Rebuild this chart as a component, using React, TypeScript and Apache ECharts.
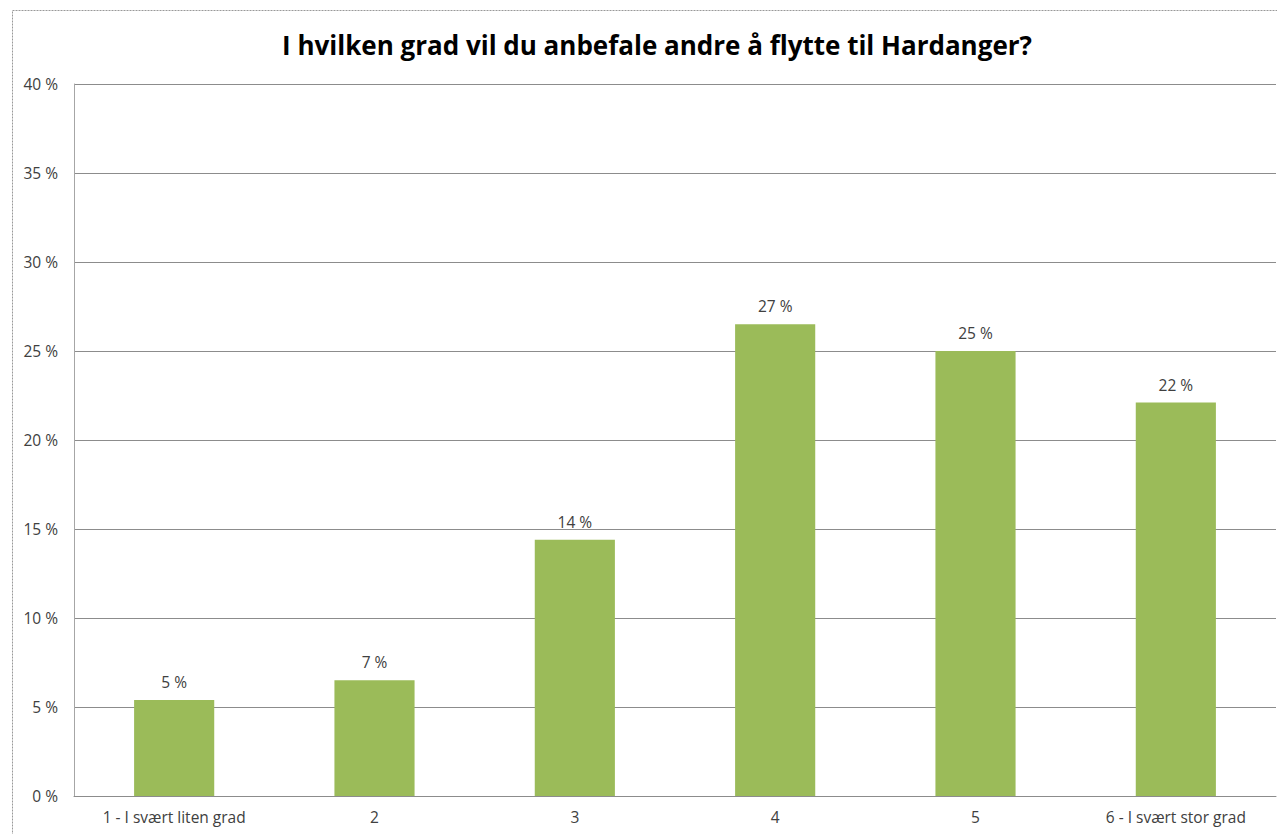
import React, { useEffect, useRef } from "react";
import * as echarts from "echarts";

const categories = ["1 - I svært liten grad", "2", "3", "4", "5", "6 - I svært stor grad"];
const values = [5.4, 6.5, 14.4, 26.5, 25.0, 22.1];
const yTicks = [0, 5, 10, 15, 20, 25, 30, 35, 40];
const title = "I hvilken grad vil du anbefale andre å flytte til Hardanger?";

export default function App() {
  const ref = useRef<HTMLDivElement>(null);
  useEffect(() => {
    document.body.style.margin = "0";
    const chart = echarts.init(ref.current!, null, { renderer: "svg" });
    const font = "'Open Sans', 'Noto Sans', sans-serif";
    chart.setOption({
      animation: false,
      backgroundColor: "#ffffff",
      title: {
        text: title,
        left: 652,
        top: 27,
        textAlign: "center",
        textStyle: { fontFamily: font, fontSize: 26, fontWeight: "bold", color: "#000" },
      },
      graphic: [
        {
          type: "rect",
          shape: { x: 12.5, y: 10.5, width: 1400, height: 1000 },
          style: { fill: "none", stroke: "#999", lineWidth: 1, lineDash: [2, 1] },
          silent: true,
        },
      ],
      grid: { left: 74, right: 1, top: 84, bottom: 38, containLabel: false },
      xAxis: {
        type: "category",
        data: categories,
        axisLine: { show: true, lineStyle: { color: "#8c8c8c", width: 1 } },
        axisTick: { show: false },
        axisLabel: { fontFamily: font, fontSize: 15.5, color: "#404040", margin: 13 },
      },
      yAxis: {
        type: "value",
        min: 0,
        max: 40,
        interval: 5,
        axisLine: { show: true, lineStyle: { color: "#a6a6a6", width: 1 } },
        axisTick: { show: false },
        splitLine: { show: true, lineStyle: { color: "#8c8c8c", width: 1 } },
        axisLabel: {
          fontFamily: font,
          fontSize: 15.5,
          color: "#404040",
          margin: 16,
          formatter: (v: number) => (yTicks.includes(v) ? `${v} %` : ""),
        },
      },
      series: [
        {
          type: "bar",
          data: values,
          barWidth: "40%",
          itemStyle: { color: "#9BBB59" },
          label: {
            show: true,
            position: "top",
            distance: 10,
            fontFamily: font,
            fontSize: 15.5,
            color: "#404040",
            formatter: (p: any) => `${Math.round(p.value)} %`,
          },
        },
      ],
    });
    return () => chart.dispose();
  }, []);
  return <div ref={ref} style={{ width: 1277, height: 834 }} />;
}
